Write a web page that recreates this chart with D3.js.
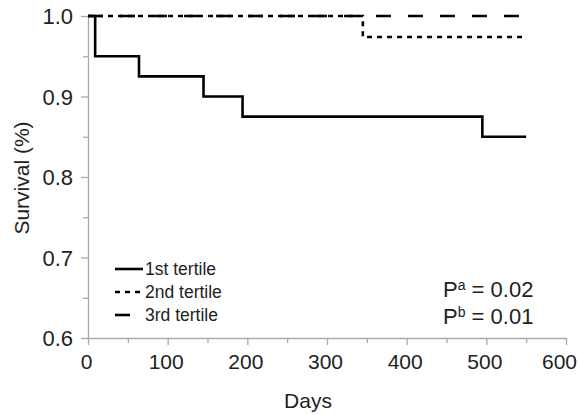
<!DOCTYPE html>
<html><head><meta charset="utf-8">
<script src="https://cdn.jsdelivr.net/npm/d3@7"></script>
<style>body{margin:0;background:#fff}text{font-family:"Liberation Sans",Arial,sans-serif;fill:#222}</style>
</head><body><svg id="c" width="579" height="415"></svg>
<script>
const xTicks = [0,100,200,300,400,500,600];
const yTicks = [0.6,0.7,0.8,0.9,1.0];
const seriesNames = ["1st tertile","2nd tertile","3rd tertile"];
const t1Days = [0,9,64,145,194,495,550];
const t1Surv = [1.0,0.95,0.925,0.9,0.875,0.85,0.85];
const t2Days = [0,345,550];
const t2Surv = [1.0,0.974,0.974];
const t3Days = [0,550];
const t3Surv = [1.0,1.0];
const pLabels = [["P","a"," = 0.02"],["P","b"," = 0.01"]];

const svg = d3.select("#c");
const x = d3.scaleLinear().domain([0,600]).range([88,566]);
const y = d3.scaleLinear().domain([0.6,1.0]).range([338,16]);
const axisCol = "#aaa";

// axes
const gx = svg.append("g").attr("transform","translate(0,338)");
gx.call(d3.axisBottom(x).tickValues(d3.range(0,601,50)).tickSize(0).tickFormat(""));
gx.select(".domain").attr("stroke",axisCol).attr("stroke-width",1.3);
gx.selectAll(".tick").append("line").attr("y2",d=>d%100===0?7:5).attr("stroke",axisCol).attr("stroke-width",1.3);
gx.selectAll(".tmaj").data(xTicks).enter().append("text")
  .attr("x",d=>d===600?577:x(d)-1.5).attr("y",31)
  .attr("text-anchor",d=>d===600?"end":"middle").attr("font-size",21).text(d=>d);

const gy = svg.append("g").attr("transform","translate(88,0)");
gy.call(d3.axisLeft(y).tickValues(d3.range(12,21).map(v=>v/20)).tickSize(0).tickFormat(""));
gy.select(".domain").attr("stroke",axisCol).attr("stroke-width",1.3);
gy.selectAll(".tick").append("line").attr("x2",(d)=>Math.round(d*20)%2===0?-7:-5).attr("stroke",axisCol).attr("stroke-width",1.3);
gy.selectAll(".tmaj").data(yTicks).enter().append("text")
  .attr("x",-15).attr("y",d=>y(d)+8).attr("text-anchor","end").attr("font-size",22).text(d=>d.toFixed(1));

svg.append("text").attr("x",308).attr("y",408).attr("text-anchor","middle").attr("font-size",21).text("Days");
svg.append("text").attr("transform","translate(29,178) rotate(-90)").attr("text-anchor","middle").attr("font-size",21).text("Survival (%)");

// curves
const line = d3.line().x(d=>x(d[0])).y(d=>y(d[1])).curve(d3.curveStepAfter);
const styles = [null,"5,5","15,17"];
const data = [d3.zip(t1Days,t1Surv), d3.zip(t2Days,t2Surv), d3.zip(t3Days,t3Surv)];
[2,1,0].forEach(i=>{
  svg.append("path").attr("d",line(data[i])).attr("fill","none").attr("stroke","#000")
    .attr("stroke-width",2.6).attr("stroke-dasharray",styles[i]);
});

// legend
seriesNames.forEach((n,i)=>{
  const ly = 269 + i*23;
  svg.append("line").attr("x1",115).attr("x2",143).attr("y1",ly).attr("y2",ly)
    .attr("stroke","#000").attr("stroke-width",2.6).attr("stroke-dasharray",styles[i]);
  svg.append("text").attr("x",145).attr("y",ly+6).attr("font-size",17.5).text(n);
});

// p values
pLabels.forEach((p,i)=>{
  const t = svg.append("text").attr("x",443).attr("y",297+i*27).attr("font-size",22);
  t.append("tspan").text(p[0]);
  t.append("tspan").attr("dy",-7).attr("font-size",14).text(p[1]);
  t.append("tspan").attr("dy",7).text(p[2]);
});
</script></body></html>
